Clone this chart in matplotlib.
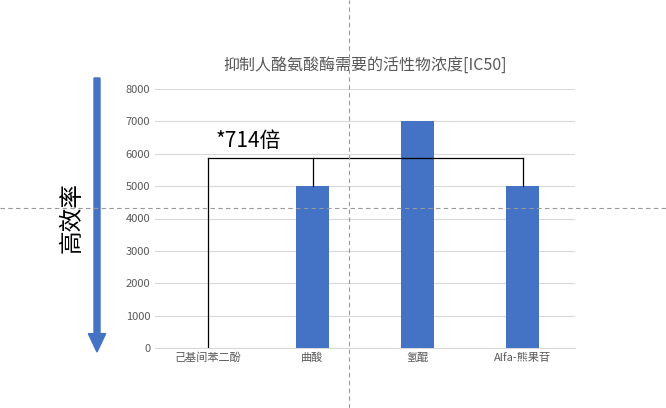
import matplotlib
matplotlib.use("Agg")
import matplotlib.pyplot as plt
from matplotlib.patches import FancyArrow

plt.rcParams['font.family'] = ['Noto Sans CJK SC', 'DejaVu Sans']

categories = ["己基间苯二酚", "曲酸", "氢醌", "Alfa-熊果苷"]
values = [7, 5000, 7000, 5000]
yticks = [0, 1000, 2000, 3000, 4000, 5000, 6000, 7000, 8000]
bracket_y = 5870
bracket_cats = [0, 1, 3]
bracket_label = "*714倍"

fig = plt.figure(figsize=(6.66, 4.08), dpi=100)
ax = fig.add_axes([155/666, 1-348/408, 420/666, (348-89)/408])
x = list(range(len(categories)))
ax.bar(x, values, width=0.31, color="#4472C4", zorder=3)
ax.set_xlim(-0.5, 3.5)
ax.set_ylim(0, 8000)
ax.set_yticks(yticks)
ax.set_yticklabels([str(t) for t in yticks], fontsize=8, color="#595959")
ax.set_xticks(x)
ax.set_xticklabels(categories, fontsize=8, color="#595959")
ax.grid(axis="y", color="#D9D9D9", linewidth=0.8, zorder=0)
for s in ["top", "right", "left"]:
    ax.spines[s].set_visible(False)
ax.spines["bottom"].set_color("#D9D9D9")
ax.tick_params(length=0)
ax.set_title("抑制人酪氨酸酶需要的活性物浓度[IC50]", fontsize=11.5, color="#595959", pad=14)

# bracket
for i in bracket_cats:
    ax.plot([i, i], [values[i], bracket_y], color="black", lw=0.9, zorder=4)
ax.plot([bracket_cats[0], bracket_cats[-1]], [bracket_y, bracket_y], color="black", lw=0.9, zorder=4)
ax.text(0.08, bracket_y + 200, bracket_label, fontsize=15, ha="left", va="bottom")

# big arrow and label
fig.patches.append(FancyArrow(97/666, 1-78/408, 0, -(352-78)/408 + 0.045, width=0.009,
                              head_width=0.026, head_length=0.045, color="#4472C4",
                              transform=fig.transFigure, length_includes_head=False))
fig.text(72/666, 1-218/408, "高效率", rotation=90, fontsize=17, ha="center", va="center")

# dashed crosshair
fig.add_artist(plt.Line2D([349/666, 349/666], [0, 1], transform=fig.transFigure,
                          color="#999999", lw=0.8, ls=(0, (4, 3))))
fig.add_artist(plt.Line2D([0, 1], [1-208/408, 1-208/408], transform=fig.transFigure,
                          color="#999999", lw=0.8, ls=(0, (4, 3))))

fig.savefig("out.png", dpi=100)
